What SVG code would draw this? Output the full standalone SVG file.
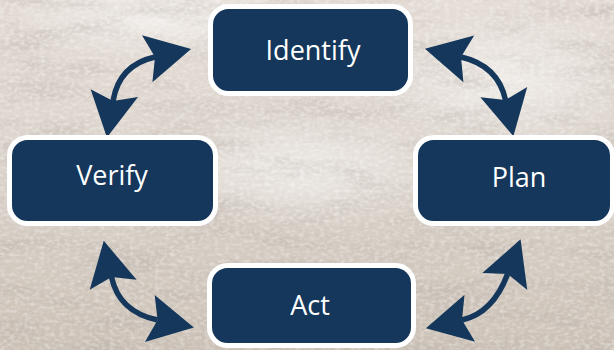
<svg xmlns="http://www.w3.org/2000/svg" width="614" height="350" viewBox="0 0 614 350">
  <defs>
    <linearGradient id="bg" x1="0" y1="0" x2="0" y2="1">
      <stop offset="0" stop-color="#e4dcd5"/>
      <stop offset="0.45" stop-color="#dbd3cb"/>
      <stop offset="1" stop-color="#cbc1b6"/>
    </linearGradient>
    <radialGradient id="hi1" cx="0.5" cy="0.5" r="0.5">
      <stop offset="0" stop-color="#f4f1ee" stop-opacity="0.8"/>
      <stop offset="1" stop-color="#f4f1ee" stop-opacity="0"/>
    </radialGradient>
    <filter id="grain" x="0" y="0" width="100%" height="100%">
      <feTurbulence type="fractalNoise" baseFrequency="0.012 0.05" numOctaves="5" seed="7" result="n"/>
      <feColorMatrix in="n" type="matrix" values="0 0 0 0 0.45  0 0 0 0 0.40  0 0 0 0 0.36  1.7 0 0 0 -0.74" result="dark"/>
      <feTurbulence type="fractalNoise" baseFrequency="0.2 0.3" numOctaves="2" seed="3" result="n2"/>
      <feColorMatrix in="n2" type="matrix" values="0 0 0 0 1  0 0 0 0 1  0 0 0 0 1  0 1.5 0 0 -0.62" result="light"/>
      <feMerge><feMergeNode in="dark"/><feMergeNode in="light"/></feMerge>
    </filter>
    <marker id="head" markerUnits="userSpaceOnUse" markerWidth="80" markerHeight="80" viewBox="-20 -40 80 80" refX="0" refY="0" orient="auto-start-reverse" overflow="visible">
      <path d="M37,0 L-8,-24 L0,0 L-8,24 Z" fill="#14375b"/>
    </marker>
    <style>
      .box { fill: #14375b; stroke: #ffffff; stroke-width: 5; }
      .lbl { fill: #ffffff; font-family: "Open Sans", "Noto Sans", sans-serif; font-size: 27px; text-anchor: middle; }
      .arc { fill: none; stroke: #14375b; stroke-width: 5.5; marker-start: url(#head); marker-end: url(#head); }
    </style>
  </defs>
  <rect width="614" height="350" fill="url(#bg)"/>
  <ellipse cx="500" cy="80" rx="140" ry="70" fill="url(#hi1)"/>
  <ellipse cx="300" cy="170" rx="160" ry="60" fill="url(#hi1)"/>
  <ellipse cx="160" cy="20" rx="150" ry="40" fill="url(#hi1)"/>
  <rect width="614" height="350" filter="url(#grain)" opacity="0.55"/>
  <g id="connectors">
    <path class="arc" d="M113,101 Q119,65 155,57"/>
    <path class="arc" d="M461,57 Q498,65.5 505.5,100"/>
    <path class="arc" d="M111.5,277 Q119,312 157.6,320"/>
    <path class="arc" d="M507.6,274 Q493,313 462,320"/>
  </g>
  <g id="identify">
    <rect class="box" x="210.5" y="6.5" width="200" height="87" rx="18"/>
    <text class="lbl" x="313" y="60">Identify</text>
  </g>
  <g id="verify">
    <rect class="box" x="9.5" y="137.5" width="206" height="86" rx="18"/>
    <text class="lbl" x="112" y="185">Verify</text>
  </g>
  <g id="plan">
    <rect class="box" x="415.5" y="137.5" width="197" height="86" rx="18"/>
    <text class="lbl" x="519" y="187">Plan</text>
  </g>
  <g id="act">
    <rect class="box" x="209.5" y="265.5" width="204" height="80" rx="18"/>
    <text class="lbl" x="310" y="315">Act</text>
  </g>
</svg>
